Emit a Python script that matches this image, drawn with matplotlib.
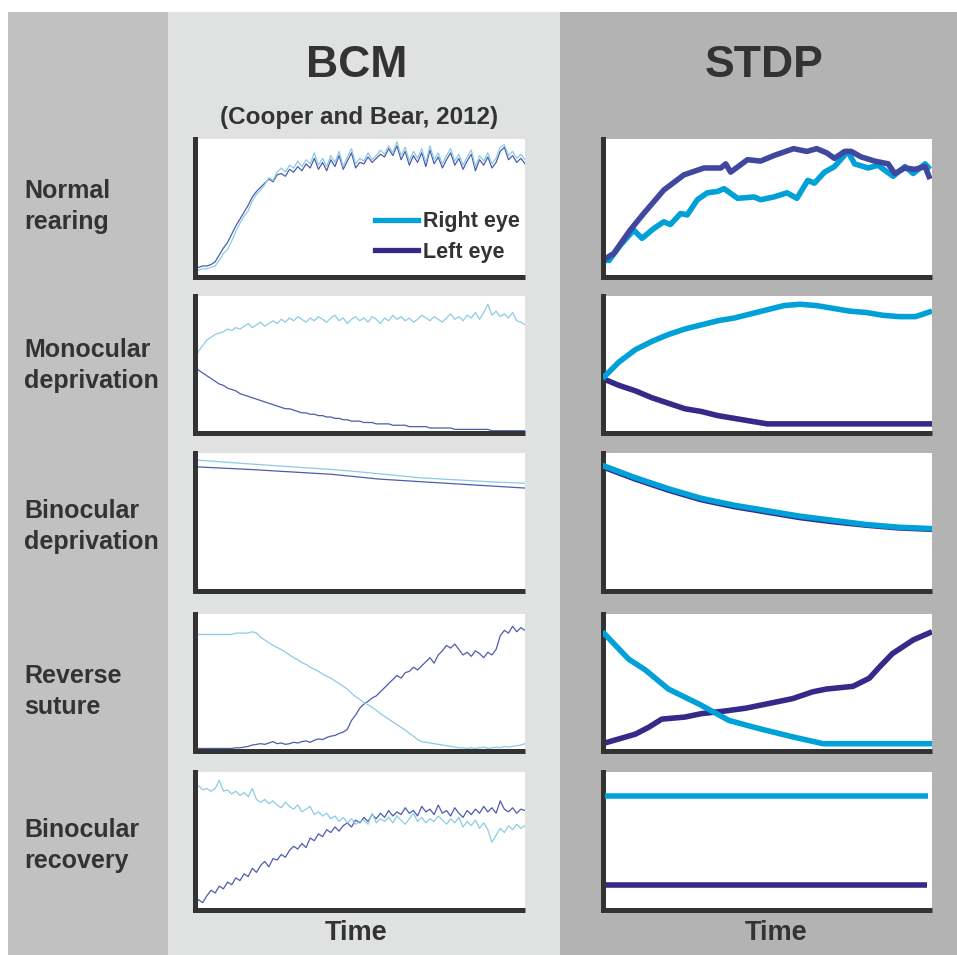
import matplotlib
matplotlib.use("Agg")
import matplotlib.pyplot as plt
import numpy as np
from matplotlib.patches import Rectangle
from matplotlib.lines import Line2D

plt.rcParams['font.family'] = ['Liberation Sans', 'DejaVu Sans']

W, H = 957, 955

# ---- data (time in % of run, value in % of panel height) ----
t_bcm = np.linspace(0, 100, 81)

# Normal rearing (BCM)
bcm_nr_right = [5, 5, 6, 6, 7, 8, 12, 17, 20, 26, 33, 39, 44, 48, 55, 60, 63, 67, 72, 70,
                76, 79, 76, 81, 79, 84, 80, 85, 82, 90, 81, 86, 80, 88, 83, 91, 80, 87, 93, 82,
                86, 84, 90, 85, 88, 92, 89, 95, 90, 98, 88, 94, 84, 91, 86, 93, 83, 95, 85, 90,
                82, 88, 93, 84, 89, 81, 87, 92, 80, 88, 84, 90, 82, 86, 94, 96, 88, 91, 86, 89, 85]
bcm_nr_left = [7, 7, 8, 8, 9, 11, 16, 21, 25, 31, 37, 42, 47, 52, 58, 62, 65, 68, 71, 69,
               74, 75, 73, 78, 76, 80, 77, 82, 79, 86, 78, 83, 77, 85, 80, 88, 78, 84, 90, 79,
               83, 82, 87, 83, 86, 89, 87, 93, 88, 95, 85, 91, 81, 88, 83, 90, 80, 92, 82, 87,
               79, 85, 90, 81, 86, 78, 84, 89, 77, 85, 81, 87, 79, 83, 91, 94, 85, 88, 83, 86, 82]

# Monocular deprivation (BCM)
bcm_md_right = [53, 60, 64, 68, 70, 72, 73, 74, 76, 75, 77, 76, 78, 80, 77, 79, 81, 78, 80, 82,
                80, 83, 81, 84, 82, 85, 83, 81, 84, 82, 85, 83, 81, 84, 86, 82, 84, 80, 83, 85,
                82, 84, 81, 85, 83, 80, 84, 82, 86, 83, 85, 82, 84, 81, 83, 86, 84, 82, 85, 83,
                81, 84, 87, 83, 85, 82, 86, 84, 88, 83, 88, 94, 86, 89, 85, 87, 84, 88, 82, 81, 79]
bcm_md_left = [49, 46, 44, 42, 40, 38, 36, 35, 33, 32, 31, 29, 28, 27, 26, 25, 24, 23, 22, 21,
               20, 19, 18, 18, 17, 16, 15, 15, 14, 14, 13, 13, 12, 12, 11, 11, 10, 10, 9, 9,
               9, 8, 8, 8, 7, 7, 7, 7, 6, 6, 6, 6, 5, 5, 5, 5, 5, 4, 4, 4,
               4, 4, 4, 3, 3, 3, 3, 3, 3, 3, 3, 3, 2, 2, 2, 2, 2, 2, 2, 2, 2]

# Binocular deprivation (BCM)
t_bcm_bd_right = [0, 17, 41.5, 49, 68, 90, 100]
bcm_bd_right = [95, 92, 88, 86.5, 82, 79, 78]
t_bcm_bd_left = [0, 17, 41.5, 56, 76, 100]
bcm_bd_left = [90, 88, 84.5, 81, 78, 74.5]

# Reverse suture (BCM)
bcm_rs_right = [85, 85, 85, 85, 85, 85, 85, 85, 85, 85, 86, 86, 86, 86, 87,
                86, 83, 81, 79, 77, 75.5, 74, 72, 70, 68, 66.5, 64.5, 63, 61, 59.5, 58, 56, 54.5, 53, 51,
                49, 47, 45, 42, 39.5, 37.5, 35, 33.5, 31.5, 29.5, 27, 25, 23, 21, 19, 17, 15, 12.5, 10.5, 8,
                6.5, 6, 5.5, 5, 4.5, 4, 3.5, 3, 2.5, 2, 2, 1.5, 2, 1.5, 2, 2.5, 1.5, 2, 2.5, 2,
                3, 2.5, 3, 3.5, 4, 5]
bcm_rs_left = [1.5, 1.5, 1.5, 1.5, 1.5, 1.5, 1.5, 1.5, 1.5, 1.5, 2, 2,
               2.5, 3, 4, 4.5, 5, 4.5, 5.5, 6.5, 5, 5.5, 4.5, 5, 6, 5.5, 6.5, 7, 6, 7.5, 8.5, 8,
               9.5, 10.5, 11, 12.5, 13.5, 15.5, 22, 26, 31, 34, 36, 38.5, 40, 43, 46, 49, 52, 55, 53, 57,
               58, 61, 59, 62, 65, 68, 64, 70, 73, 77, 75, 78, 74, 70, 72, 69, 73, 71, 68, 72,
               70, 74, 84, 88, 86, 91, 87, 90, 88]

# Binocular recovery (BCM)
bcm_br_right = [89, 90, 87, 88, 86, 88, 94, 86, 87, 84, 86, 83, 85, 82, 88, 80, 78, 80, 77, 79,
                76, 74, 78, 75, 73, 76, 71, 73, 75, 69, 71, 68, 70, 66, 68, 64, 67, 63, 66, 62,
                64, 65, 62, 70, 63, 66, 64, 67, 63, 68, 65, 62, 66, 70, 64, 67, 63, 66, 64, 68,
                65, 62, 66, 63, 67, 60, 64, 61, 65, 59, 63, 58, 49, 54, 59, 56, 61, 58, 62, 59, 61]
bcm_br_left = [4, 7, 5, 10, 14, 12, 17, 15, 20, 18, 23, 21, 26, 24, 30, 27, 32, 35, 31, 37,
               36, 40, 38, 43, 46, 44, 48, 45, 52, 50, 55, 53, 58, 56, 60, 57, 61, 63, 60, 65,
               63, 67, 64, 69, 66, 70, 67, 72, 68, 71, 69, 74, 70, 72, 68, 75, 71, 73, 69, 76,
               70, 72, 68, 74, 70, 67, 72, 69, 73, 70, 75, 71, 74, 70, 79, 73, 71, 74, 70, 73, 72]

# Normal rearing (STDP)
t_stdp_nr_left = [0, 3.4, 8.4, 12.5, 18.6, 24.7, 30.8, 35.9, 37.4, 38.9, 44, 48, 52, 58, 62, 65,
                  68, 70.4, 73.5, 75.5, 78.5, 82.6, 86.7, 88.7, 91.8, 94.8, 97.9, 99.4]
stdp_nr_left = [12, 17, 34, 46, 63, 74, 79, 79, 82, 76, 85, 84, 88, 93, 91, 93,
                90, 86, 91, 91, 87, 84, 82, 75, 79, 78, 80, 71]
t_stdp_nr_right = [0, 2, 5.4, 9.5, 12, 15.5, 18.6, 20.6, 23.7, 25.7, 28.8, 31.8, 34.9, 36.9, 41,
                   46, 48, 52, 56, 59, 62.3, 64.3, 67.4, 70.4, 74.5, 76.5, 80.6, 83.6, 88.2, 91.8,
                   94.3, 97.9, 99.4]
stdp_nr_right = [12, 12, 23, 34, 28, 35, 40, 38, 46, 45, 56, 61, 62, 64, 57,
                 58, 56, 58, 61, 57, 70, 68, 76, 80, 91, 82, 79, 81, 73, 80,
                 75, 82, 78]

# Monocular deprivation (STDP)
t_stdp_md = [0, 5, 10, 15, 20, 25, 30, 35, 40, 45, 50, 55, 60, 65, 70, 75, 80, 85, 90, 95, 100]
stdp_md_right = [40, 52, 61, 67, 72, 76, 79, 82, 84, 87, 90, 93, 94, 93, 91, 89, 88, 86, 85, 85, 89]
stdp_md_left = [40, 35, 31, 26, 22, 18, 16, 13, 11, 9, 7, 7, 7, 7, 7, 7, 7, 7, 7, 7, 7]

# Binocular deprivation (STDP)
t_stdp_bd = [0, 10, 20, 30, 40, 50, 60, 70, 80, 90, 100]
stdp_bd_right = [91, 82, 74, 67, 62, 58, 54, 51, 48, 46, 45]
stdp_bd_left = [90, 81, 73, 66, 61, 57, 53, 50, 47.5, 45.5, 44.5]

# Reverse suture (STDP)
t_stdp_rs_right = [0, 7.9, 13, 20, 29.3, 38.4, 47.6, 57.7, 66.9, 100]
stdp_rs_right = [87, 67, 59, 45, 34, 22, 16, 10, 5, 5]
t_stdp_rs_left = [0, 10, 14, 18, 25, 30, 37.4, 43.5, 49.6, 57.7, 63.8, 67.9, 76, 81, 84, 88, 94.3, 100]
stdp_rs_left = [5, 12, 17, 23, 24.5, 27, 29, 31, 34, 38, 43, 45, 47, 53, 61, 71, 81, 87]

# Binocular recovery (STDP)
t_stdp_br_right = [0.8, 98.9]
stdp_br_right = [82.5, 82.5]
t_stdp_br_left = [0, 98.4]
stdp_br_left = [17.5, 17.5]

row_labels = ["Normal\nrearing", "Monocular\ndeprivation", "Binocular\ndeprivation",
              "Reverse\nsuture", "Binocular\nrecovery"]

bcm_rows = [
    ((t_bcm, bcm_nr_right), (t_bcm, bcm_nr_left)),
    ((t_bcm, bcm_md_right), (t_bcm, bcm_md_left)),
    ((t_bcm_bd_right, bcm_bd_right), (t_bcm_bd_left, bcm_bd_left)),
    ((t_bcm, bcm_rs_right), (t_bcm, bcm_rs_left)),
    ((t_bcm, bcm_br_right), (t_bcm, bcm_br_left)),
]
stdp_rows = [
    ((t_stdp_nr_right, stdp_nr_right), (t_stdp_nr_left, stdp_nr_left)),
    ((t_stdp_md, stdp_md_right), (t_stdp_md, stdp_md_left)),
    ((t_stdp_bd, stdp_bd_right), (t_stdp_bd, stdp_bd_left)),
    ((t_stdp_rs_right, stdp_rs_right), (t_stdp_rs_left, stdp_rs_left)),
    ((t_stdp_br_right, stdp_br_right), (t_stdp_br_left, stdp_br_left)),
]

# ---- layout ----
TXT = '#333333'
BCM_R, BCM_L = '#8ccbe4', '#4d5cad'
STDP_R, STDP_L = '#00a0d9', '#35298a'
STDP_L1 = '#3f479e'

rows_px = [(139, 277), (296, 433.5), (453, 590.5), (614, 750.5), (772, 909.5)]
label_base = [198, 357, 518, 683, 837]


def fx(px):
    return px / W


def fy(py):
    return 1 - py / H


fig = plt.figure(figsize=(W / 100, H / 100), dpi=100)
fig.patch.set_facecolor('white')
for x0, x1, c in [(8, 168, '#c1c1c1'), (168, 560, '#e0e1e1'), (560, W, '#b3b3b3')]:
    fig.add_artist(Rectangle((fx(x0), 0), (x1 - x0) / W, fy(12), transform=fig.transFigure,
                             facecolor=c, edgecolor='none', zorder=0))


def make_ax(x0, x1, y0, y1):
    ax = fig.add_axes([fx(x0), fy(y1), (x1 - x0) / W, (y1 - y0) / H])
    ax.set_facecolor('white')
    for s in ['top', 'right']:
        ax.spines[s].set_visible(False)
    for s in ['left', 'bottom']:
        ax.spines[s].set_linewidth(3.6)
        ax.spines[s].set_color(TXT)
    ax.spines['left'].set_capstyle('projecting')
    ax.spines['bottom'].set_capstyle('butt')
    ax.set_xticks([])
    ax.set_yticks([])
    ax.set_xlim(0, 100)
    ax.set_ylim(0, 100)
    return ax


for i, (y0, y1) in enumerate(rows_px):
    axb = make_ax(194.5, 525, y0, y1)
    (tr, vr), (tl, vl) = bcm_rows[i]
    axb.plot(tl, vl, color=BCM_L, lw=0.9, zorder=2)
    axb.plot(tr, vr, color=BCM_R, lw=0.9, zorder=2)

    axs = make_ax(602.5, 932, y0, y1)
    (tr, vr), (tl, vl) = stdp_rows[i]
    lc = STDP_L1 if i == 0 else STDP_L
    axs.plot(tl, vl, color=lc, lw=4.0, zorder=2, solid_capstyle='butt')
    axs.plot(tr, vr, color=STDP_R, lw=4.0, zorder=3 if i != 0 else 1.5, solid_capstyle='butt')

    if i == 0:
        handles = [Line2D([], [], color=STDP_R, lw=3.8), Line2D([], [], color=STDP_L, lw=3.8)]
        axb.legend(handles, ['Right eye', 'Left eye'], loc='upper left',
                   bbox_to_anchor=(0.546, 0.475), frameon=False, borderpad=0, borderaxespad=0,
                   handlelength=2.0, handletextpad=0.25, labelspacing=0.44,
                   prop={'weight': 'bold', 'size': 15.5}, labelcolor=TXT)

    first, second = row_labels[i].split('\n')
    fig.text(fx(24), fy(label_base[i]), first, ha='left', va='baseline',
             fontsize=18, fontweight='bold', color=TXT)
    fig.text(fx(24), fy(label_base[i] + 31), second, ha='left', va='baseline',
             fontsize=18, fontweight='bold', color=TXT)

fig.text(fx(357), fy(77), 'BCM', ha='center', va='baseline', fontsize=32, fontweight='bold', color=TXT)
fig.text(fx(764), fy(77), 'STDP', ha='center', va='baseline', fontsize=32, fontweight='bold', color=TXT)
fig.text(fx(359), fy(124), '(Cooper and Bear, 2012)', ha='center', va='baseline',
         fontsize=17.5, fontweight='bold', color=TXT)
fig.text(fx(356), fy(940), 'Time', ha='center', va='baseline', fontsize=19.5, fontweight='bold', color=TXT)
fig.text(fx(776), fy(940), 'Time', ha='center', va='baseline', fontsize=19.5, fontweight='bold', color=TXT)

fig.savefig('out.png', dpi=100)
